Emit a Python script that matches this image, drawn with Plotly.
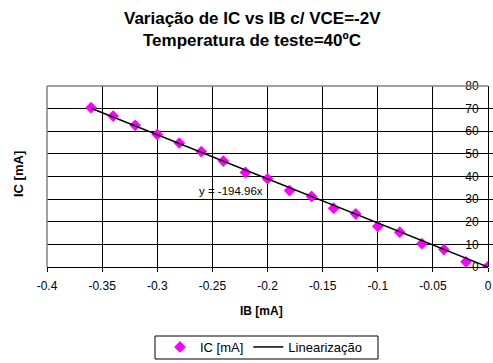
import plotly.graph_objects as go

ib = [-0.36, -0.34, -0.32, -0.30, -0.28, -0.26, -0.24, -0.22, -0.20, -0.18,
      -0.16, -0.14, -0.12, -0.10, -0.08, -0.06, -0.04, -0.02, 0.0]
ic = [70.4, 66.7, 62.6, 58.6, 54.8, 51.0, 46.8, 41.8, 39.0, 33.8,
      31.2, 26.0, 23.5, 18.0, 15.4, 10.3, 7.7, 2.3, 0.2]
slope = -194.96
fit_x = [-0.36, 0.0]
fit_y = [slope * v for v in fit_x]

x_tickvals = [-0.4, -0.35, -0.3, -0.25, -0.2, -0.15, -0.1, -0.05, 0.0]
x_ticktext = ["-0.4", "-0.35", "-0.3", "-0.25", "-0.2", "-0.15", "-0.1", "-0.05", "0"]
y_tickvals = [0, 10, 20, 30, 40, 50, 60, 70, 80]
y_ticktext = ["0", "10", "20", "30", "40", "50", "60", "70", "80"]

font = "Liberation Sans, Arial, sans-serif"
W, H = 493, 363
L, R, T, B = 47, 5, 86, 96
PH = H - T - B
PW = W - L - R

def py(pix):  # pixel y from top -> paper y
    return (H - B - pix) / PH

def px(pix):
    return (pix - L) / PW

fig = go.Figure()
fig.add_trace(go.Scatter(x=ib, y=ic, mode="markers", name="IC [mA]",
                         marker=dict(symbol="diamond", size=9, color="#FF00FF")))
fig.add_trace(go.Scatter(x=fit_x, y=fit_y, mode="lines", name="Linearização",
                         line=dict(color="black", width=1.5)))

fig.update_layout(
    width=W, height=H,
    margin=dict(l=L, r=R, t=T, b=B, autoexpand=False),
    paper_bgcolor="white", plot_bgcolor="white",
    font=dict(family=font, size=12, color="black"),
    showlegend=True,
    legend=dict(orientation="h", x=px(264), xanchor="center",
                y=py(347), yanchor="middle", bgcolor="rgba(0,0,0,0)",
                borderwidth=0, font=dict(size=13),
                tracegroupgap=0, itemwidth=30),
    xaxis=dict(range=[-0.4, 1e-9], tickmode="array", tickvals=x_tickvals,
               ticktext=x_ticktext, showgrid=True,
               gridcolor="black", gridwidth=1, zeroline=False,
               showline=True, linecolor="black", linewidth=1,
               ticks="outside", ticklen=4, tickcolor="black",
               ticklabelstandoff=4, tickfont=dict(size=12)),
    yaxis=dict(range=[0, 80.0001], tickmode="array", tickvals=y_tickvals,
               ticktext=y_ticktext, side="left", anchor="free",
               position=1.0, showgrid=True,
               gridcolor="black", gridwidth=1, zeroline=False,
               showline=True, linecolor="black", linewidth=1,
               ticks="inside", ticklen=4, tickcolor="black",
               ticklabelstandoff=7, tickfont=dict(size=12)),
    annotations=[
        dict(text="<b>Variação de IC vs IB c/ VCE=-2V</b>", x=px(252), y=py(18),
             xref="paper", yref="paper", xanchor="center", yanchor="middle",
             showarrow=False, font=dict(size=17, color="black")),
        dict(text="<b>Temperatura de teste=40ºC</b>", x=px(252), y=py(40),
             xref="paper", yref="paper", xanchor="center", yanchor="middle",
             showarrow=False, font=dict(size=17, color="black")),
        dict(text="y = -194.96x", x=-0.233, y=33.8, xref="x", yref="y",
             xanchor="center", yanchor="middle",
             showarrow=False, font=dict(size=11.5, color="black")),
        dict(text="<b>IC [mA]</b>", x=px(18), y=py(174), xref="paper", yref="paper",
             xanchor="center", yanchor="middle",
             showarrow=False, textangle=-90,
             font=dict(size=13, color="black")),
        dict(text="<b>IB [mA]</b>", x=px(261), y=py(311), xref="paper", yref="paper",
             xanchor="center", yanchor="middle",
             showarrow=False, font=dict(size=12, color="black")),
    ],
    shapes=[
        dict(type="line", xref="paper", yref="paper", x0=0, x1=0, y0=0, y1=1,
             line=dict(color="#808080", width=1.5)),
        dict(type="line", xref="paper", yref="paper", x0=0, x1=1, y0=1, y1=1,
             line=dict(color="#808080", width=1.5)),
        dict(type="rect", xref="paper", yref="paper", x0=px(155), x1=px(378),
             y0=py(359), y1=py(336), line=dict(color="black", width=1),
             fillcolor="rgba(0,0,0,0)", layer="above"),
    ],
)
fig.write_html("out.html")
